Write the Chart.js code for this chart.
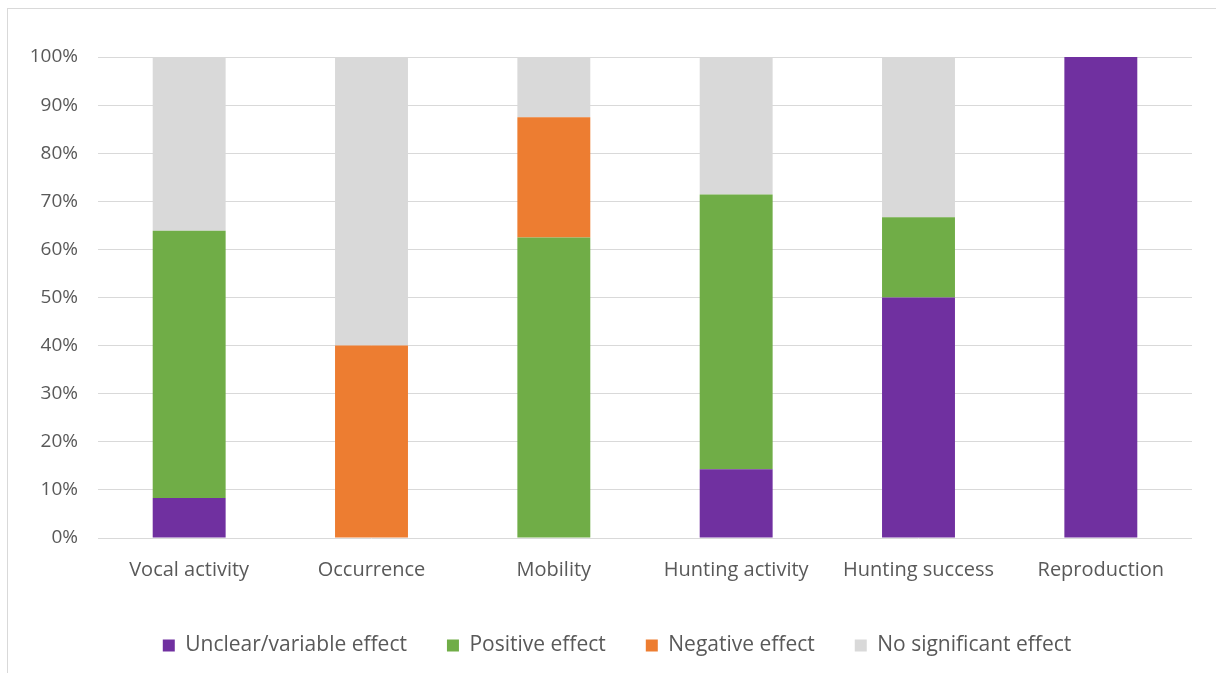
<!DOCTYPE html>
<html>
<head>
<meta charset="utf-8">
<script src="https://cdn.jsdelivr.net/npm/chart.js@4.4.1/dist/chart.umd.min.js"></script>
<style>
  body { margin: 0; background: #fff; }
  #frame { position: absolute; left: 7px; top: 8px; width: 1209px; height: 665px; border-left: 1px solid #d9d9d9; border-top: 1px solid #d9d9d9; }
  #wrap { position: absolute; left: 0; top: 0; width: 1216px; height: 673px; }
</style>
</head>
<body>
<div id="frame"></div>
<div id="wrap"><canvas id="chart"></canvas></div>
<script>
let categories = ["Vocal activity", "Occurrence", "Mobility", "Hunting activity", "Hunting success", "Reproduction"]
let unclear = [8.3, 0, 0, 14.3, 50, 100]
let positive = [55.6, 0, 62.5, 57.1, 16.7, 0]
let negative = [0, 40, 25, 0, 0, 0]
let nosig = [36.1, 60, 12.5, 28.6, 33.3, 0]
let yticks = [0, 10, 20, 30, 40, 50, 60, 70, 80, 90, 100]

let textcol = "#595959"
let fontfam = "'Open Sans', Lato, sans-serif"

// nudge the legend a bit right, excel centres it under the plot not the canvas
const legendshift = {
    id: "legendshift",
    afterLayout(chart) {
        chart.legend.left += 16
        chart.legend.right += 16
    }
}

const ctx = document.getElementById("chart").getContext("2d")
const chart = new Chart(ctx, {
    type: "bar",
    data: {
        labels: categories,
        datasets: [
            { label: "Unclear/variable effect", data: unclear, backgroundColor: "#7030a0" },
            { label: "Positive effect", data: positive, backgroundColor: "#70ad47" },
            { label: "Negative effect", data: negative, backgroundColor: "#ed7d31" },
            { label: "No significant effect", data: nosig, backgroundColor: "#d9d9d9" }
        ]
    },
    plugins: [legendshift],
    options: {
        responsive: true,
        maintainAspectRatio: false,
        animation: false,
        datasets: { bar: { barPercentage: 0.4, categoryPercentage: 1 } },
        layout: { padding: { top: 57, left: 10, right: 24, bottom: 7 } },
        plugins: {
            tooltip: { enabled: false },
            legend: {
                position: "bottom",
                labels: {
                    boxWidth: 12, boxHeight: 12, padding: 40,
                    color: textcol,
                    font: { family: fontfam, size: 21 }
                }
            }
        },
        scales: {
            x: {
                stacked: true,
                grid: { display: false },
                border: { display: false },
                ticks: { color: textcol, font: { family: fontfam, size: 20 }, padding: 12 },
                afterFit: (s) => { s.height = 57 }
            },
            y: {
                stacked: true,
                min: 0, max: 100,
                afterBuildTicks: (s) => { s.ticks = yticks.map(v => ({ value: v })) },
                grid: { color: "#d9d9d9", drawTicks: false },
                border: { display: false },
                ticks: { color: textcol, font: { family: fontfam, size: 19 }, padding: 20, callback: (v) => v + "%" },
                afterFit: (s) => { s.width = 88 }
            }
        }
    }
})
</script>
</body>
</html>
